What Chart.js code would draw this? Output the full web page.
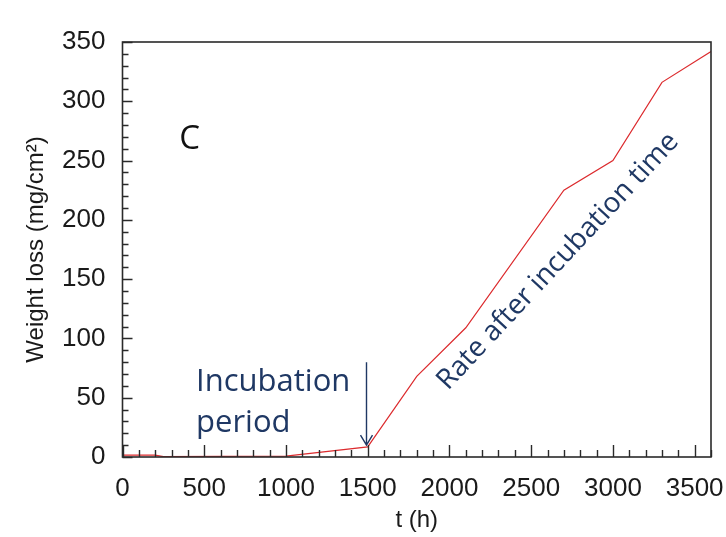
<!DOCTYPE html>
<html>
<head>
<meta charset="utf-8">
<script src="https://cdn.jsdelivr.net/npm/chart.js@4.4.1/dist/chart.umd.min.js"></script>
<style>
  html, body { margin: 0; padding: 0; background: #ffffff; }
  #wrap { width: 726px; height: 537px; position: relative; }
</style>
</head>
<body>
<div id="wrap"><canvas id="c" width="726" height="537"></canvas></div>
<script>
// ---- data ----
const timeHours = [0, 200, 250, 1000, 1500, 1800, 2100, 2700, 3000, 3300, 3600];
const weightLoss = [1.5, 1.5, 0.3, 0.8, 8.5, 68, 109, 225, 250, 316, 342];
const xTickValues = [0, 500, 1000, 1500, 2000, 2500, 3000, 3500];
const yTickValues = [0, 50, 100, 150, 200, 250, 300, 350];
const xMinorStep = 100, xMin = 0, xMax = 3600;
const yMinorStep = 10, yMin = 0, yMax = 350;

// annotations (positions in data units)
const panelLabel = { text: 'C', t: 410, v: 268 };
const incubationLines = ['Incubation', 'period'];
const incubationPos = { t: 450, v: 56 };
const arrowPos = { t: 1490, vTop: 80, vTip: 10 };
const rateLabel = { text: 'Rate after incubation time', t: 2665, v: 165 };

const points = timeHours.map((t, i) => ({ x: t, y: weightLoss[i] }));

const frameColor = '#2a2a2a';
const navy = '#1f3864';

const framePlugin = {
  id: 'frameTicks',
  afterDatasetsDraw(chart) {
    const { ctx, chartArea: a } = chart;
    const xs = chart.scales.x, ys = chart.scales.y;
    ctx.save();
    ctx.strokeStyle = frameColor;
    ctx.lineWidth = 1.4;
    ctx.beginPath();
    for (let t = xMin; t <= xMax; t += xMinorStep) {
      const px = Math.round(xs.getPixelForValue(t)) + 0.5;
      const len = xTickValues.includes(t) ? 12 : 7;
      ctx.moveTo(px, a.bottom);
      ctx.lineTo(px, a.bottom - len);
    }
    for (let v = yMin; v <= yMax; v += yMinorStep) {
      const py = Math.round(ys.getPixelForValue(v)) + 0.5;
      const len = yTickValues.includes(v) ? 10 : 6;
      ctx.moveTo(a.left, py);
      ctx.lineTo(a.left + len, py);
    }
    ctx.stroke();
    ctx.lineWidth = 1.6;
    ctx.strokeRect(a.left, a.top, a.right - a.left, a.bottom - a.top);

    ctx.fillStyle = '#111111';
    ctx.font = '33px "Open Sans"';
    ctx.textAlign = 'center';
    ctx.textBaseline = 'middle';
    ctx.fillText(panelLabel.text, xs.getPixelForValue(panelLabel.t), ys.getPixelForValue(panelLabel.v));

    ctx.fillStyle = navy;
    ctx.font = '31px "Open Sans"';
    ctx.textAlign = 'left';
    ctx.textBaseline = 'alphabetic';
    const ix = xs.getPixelForValue(incubationPos.t);
    const iy = ys.getPixelForValue(incubationPos.v);
    ctx.fillText(incubationLines[0], ix, iy);
    ctx.fillText(incubationLines[1], ix, iy + 41);

    const axp = Math.round(xs.getPixelForValue(arrowPos.t)) + 0.5;
    const ayTop = ys.getPixelForValue(arrowPos.vTop);
    const ayTip = ys.getPixelForValue(arrowPos.vTip);
    ctx.strokeStyle = navy;
    ctx.lineWidth = 1.4;
    ctx.beginPath();
    ctx.moveTo(axp, ayTop);
    ctx.lineTo(axp, ayTip);
    ctx.moveTo(axp - 6, ayTip - 10);
    ctx.lineTo(axp, ayTip);
    ctx.lineTo(axp + 6, ayTip - 10);
    ctx.stroke();

    ctx.save();
    ctx.translate(xs.getPixelForValue(rateLabel.t), ys.getPixelForValue(rateLabel.v));
    ctx.rotate(-47 * Math.PI / 180);
    ctx.font = '28px "Open Sans"';
    ctx.fillStyle = navy;
    ctx.textAlign = 'center';
    ctx.textBaseline = 'middle';
    ctx.fillText(rateLabel.text, 0, 0);
    ctx.restore();

    ctx.restore();
  }
};

const tickFont = { family: '"Liberation Sans", Arial, sans-serif', size: 26 };
const titleFont = { family: '"Liberation Sans", Arial, sans-serif', size: 24 };

new Chart(document.getElementById('c'), {
  type: 'line',
  data: {
    datasets: [{
      data: points,
      borderColor: '#dc2b2e',
      borderWidth: 1.2,
      pointRadius: 0,
      tension: 0,
      fill: false
    }]
  },
  options: {
    responsive: false,
    devicePixelRatio: 1,
    animation: false,
    events: [],
    layout: { padding: { left: 0, top: 42, right: 15, bottom: 0 } },
    plugins: { legend: { display: false }, tooltip: { enabled: false }, title: { display: false } },
    scales: {
      x: {
        type: 'linear',
        min: xMin, max: xMax,
        grid: { display: false, drawTicks: false },
        border: { display: false },
        afterBuildTicks(scale) { scale.ticks = xTickValues.map(v => ({ value: v })); },
        ticks: {
          padding: 16,
          color: '#1a1a1a',
          font: tickFont,
          maxRotation: 0,
          autoSkip: false,
          callback: v => String(v)
        },
        title: {
          display: true,
          text: 't (h)',
          color: '#1a1a1a',
          font: titleFont,
          padding: { top: 0, bottom: 2 }
        },
        afterFit(scale) { scale.height = 80; scale.paddingLeft = 0; scale.paddingRight = 0; }
      },
      y: {
        type: 'linear',
        min: yMin, max: yMax,
        grid: { display: false, drawTicks: false },
        border: { display: false },
        afterBuildTicks(scale) { scale.ticks = yTickValues.map(v => ({ value: v })); },
        ticks: {
          padding: 17,
          color: '#1a1a1a',
          font: tickFont,
          autoSkip: false,
          callback: v => String(v)
        },
        title: {
          display: true,
          text: 'Weight loss (mg/cm²)',
          color: '#1a1a1a',
          font: titleFont,
          padding: { top: 22, bottom: 0 }
        },
        afterFit(scale) { scale.width = 122.5; scale.paddingTop = 0; scale.paddingBottom = 0; }
      }
    }
  },
  plugins: [framePlugin]
});
</script>
</body>
</html>
